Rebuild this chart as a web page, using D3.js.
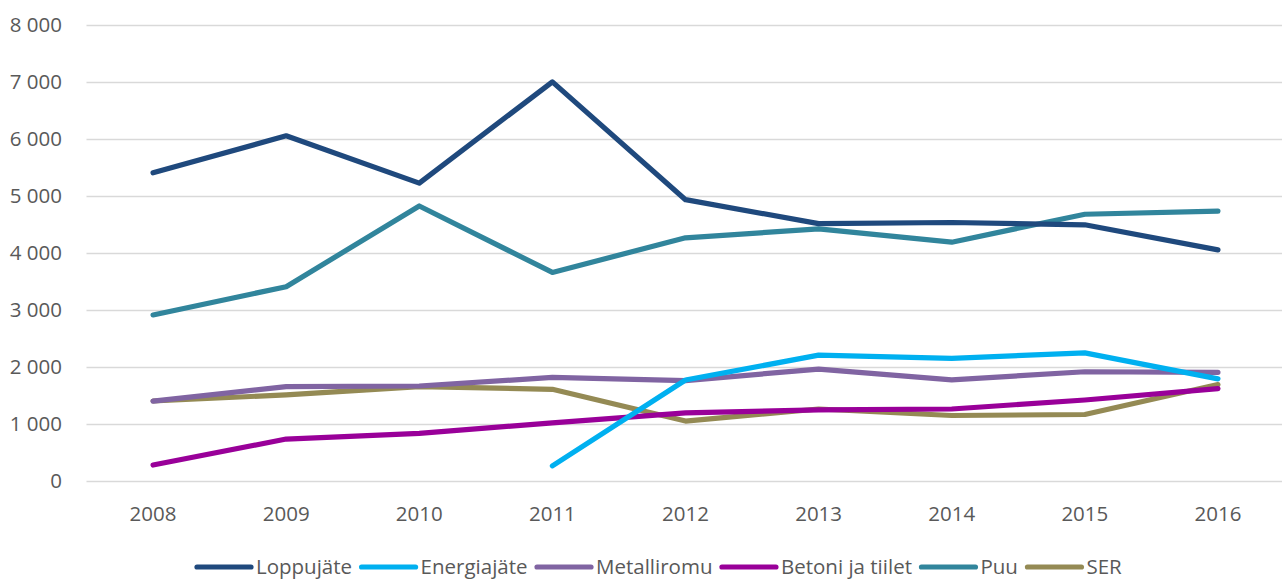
<!DOCTYPE html>
<html><head><meta charset="utf-8">
<script src="https://cdn.jsdelivr.net/npm/d3@7"></script>
<style>
html,body{margin:0;padding:0;background:#fff;}
svg{display:block;font-family:"Open Sans",sans-serif;}
</style></head>
<body><svg id="c" width="1282" height="579"></svg>
<script>
const years = ["2008","2009","2010","2011","2012","2013","2014","2015","2016"];
const yTicks = [0,1000,2000,3000,4000,5000,6000,7000,8000];
const seriesNames = ["Loppujäte","Energiajäte","Metalliromu","Betoni ja tiilet","Puu","SER"];
const seriesColors = ["#1F497D","#00B0F0","#8064A2","#990099","#31859C","#948A54"];
const loppujate = [5400,6050,5220,6995,4930,4510,4530,4490,4050];
const energiajate = [null,null,null,265,1770,2205,2150,2245,1790];
const metalliromu = [1400,1655,1665,1815,1760,1962,1772,1915,1905];
const betoni = [280,735,835,1020,1195,1245,1262,1420,1620];
const puu = [2910,3405,4820,3655,4262,4418,4185,4675,4730];
const ser = [1402,1510,1655,1607,1050,1262,1148,1165,1690];
const seriesValues = [loppujate,energiajate,metalliromu,betoni,puu,ser];
const drawOrder = [5,4,3,2,1,0];

(function(){
const svg = d3.select("#c");
const mLeft = 86.5, mRight = 1284.5, mTop = 24.5, mBottom = 481;
const x = d3.scalePoint().domain(years).range([mLeft, mRight]).padding(0.5);
const y = d3.scaleLinear().domain([0,8000]).range([mBottom, mTop]);

svg.append("g").selectAll("line").data(yTicks).join("line")
  .attr("x1", mLeft).attr("x2", 1282)
  .attr("y1", d => Math.round(y(d))+0.5).attr("y2", d => Math.round(y(d))+0.5)
  .attr("stroke", "#d9d9d9").attr("stroke-width", 1.3);

const fmt = v => d3.format(",")(v).replace(/,/g, " ");
svg.append("g").selectAll("text").data(yTicks).join("text")
  .attr("x", 62).attr("y", d => y(d)).attr("dy", "0.36em")
  .attr("text-anchor", "end").attr("fill", "#595959").attr("font-size", 20.5)
  .text(fmt);

svg.append("g").selectAll("text").data(years).join("text")
  .attr("x", d => x(d)).attr("y", 514).attr("dy", "0.36em")
  .attr("text-anchor", "middle").attr("fill", "#595959").attr("font-size", 20.5)
  .text(d => d);

const line = d3.line().defined(d => d.v != null).x(d => x(d.year)).y(d => y(d.v));
drawOrder.forEach(i => {
  const data = years.map((yr, j) => ({year: yr, v: seriesValues[i][j]}));
  svg.append("path").datum(data).attr("d", line)
    .attr("fill", "none").attr("stroke", seriesColors[i])
    .attr("stroke-width", 5.2).attr("stroke-linecap", "round").attr("stroke-linejoin", "round");
});

const lg = svg.append("g");
let cx = 197;
const ly = 567;
seriesNames.forEach((name, i) => {
  lg.append("line").attr("x1", cx).attr("x2", cx + 54).attr("y1", ly).attr("y2", ly)
    .attr("stroke", seriesColors[i]).attr("stroke-width", 5.2).attr("stroke-linecap", "round");
  const t = lg.append("text").attr("x", cx + 59).attr("y", ly).attr("dy", "0.36em")
    .attr("fill", "#595959").attr("font-size", 20.5).text(name);
  const w = t.node().getComputedTextLength();
  cx = cx + 59 + w + 9.5;
});
})();
</script></body></html>
